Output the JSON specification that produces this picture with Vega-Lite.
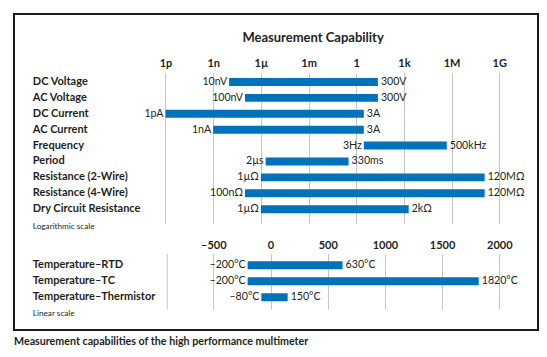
{
  "$schema": "https://vega.github.io/schema/vega-lite/v6.json",
  "width": 524,
  "height": 316,
  "autosize": {"type": "none"},
  "padding": {"left": 14, "top": 14, "right": 9, "bottom": 27},
  "background": "white",
  "title": {
    "text": "Measurement capabilities of the high performance multimeter",
    "orient": "bottom",
    "anchor": "start",
    "frame": "group",
    "offset": 7,
    "fontSize": 10.7,
    "fontWeight": "bold",
    "color": "#231f20"
  },
  "config": {
    "font": "Lato",
    "view": {"stroke": "#1a1a1a", "strokeWidth": 2},
    "text": {"font": "Lato", "fontSize": 10.6, "color": "#231f20"}
  },
  "resolve": {"scale": {"x": "independent", "y": "independent"}},
  "layer": [
    {
      "data": {
        "values": [
          {"name": "DC Voltage", "lo": 1e-8, "hi": 23, "loLabel": "10nV", "hiLabel": "300V"},
          {"name": "AC Voltage", "lo": 1e-7, "hi": 23, "loLabel": "100nV", "hiLabel": "300V"},
          {"name": "DC Current", "lo": 1e-12, "hi": 3, "loLabel": "1pA", "hiLabel": "3A"},
          {"name": "AC Current", "lo": 1e-9, "hi": 3, "loLabel": "1nA", "hiLabel": "3A"},
          {"name": "Frequency", "lo": 3, "hi": 500000, "loLabel": "3Hz", "hiLabel": "500kHz"},
          {"name": "Period", "lo": 2e-6, "hi": 0.33, "loLabel": "2µs", "hiLabel": "330ms"},
          {"name": "Resistance (2-Wire)", "lo": 1e-6, "hi": 1.2e8, "loLabel": "1µΩ", "hiLabel": "120MΩ"},
          {"name": "Resistance (4-Wire)", "lo": 1e-7, "hi": 1.2e8, "loLabel": "100nΩ", "hiLabel": "120MΩ"},
          {"name": "Dry Circuit Resistance", "lo": 1e-6, "hi": 2000, "loLabel": "1µΩ", "hiLabel": "2kΩ"}
        ]
      },
      "encoding": {
        "y": {
          "field": "name",
          "type": "nominal",
          "sort": null,
          "scale": {
            "domain": ["DC Voltage", "AC Voltage", "DC Current", "AC Current", "Frequency", "Period", "Resistance (2-Wire)", "Resistance (4-Wire)", "Dry Circuit Resistance"],
            "range": [58.7, 209.5],
            "paddingInner": 0.5,
            "paddingOuter": 0.492,
            "align": 0.339
          },
          "axis": {
            "orient": "left",
            "offset": -18.3,
            "domain": false,
            "ticks": false,
            "grid": false,
            "labelAlign": "left",
            "labelPadding": 0,
            "labelFontSize": 11,
            "labelFontWeight": "bold",
            "labelColor": "#231f20",
            "labelLimit": 0,
            "title": "Logarithmic scale",
            "titleAngle": 0,
            "titleX": 0,
            "titleY": 212.7,
            "titleAlign": "left",
            "titleBaseline": "middle",
            "titleFontSize": 8.2,
            "titleFontWeight": "normal",
            "titleColor": "#231f20"
          }
        },
        "x": {
          "field": "lo",
          "type": "quantitative",
          "scale": {"type": "log", "domain": [2.944e-22, 2.72e11], "nice": false},
          "axis": {
            "orient": "top",
            "offset": -49,
            "values": [1e-12, 1e-9, 1e-6, 1e-3, 1, 1e3, 1e6, 1e9],
            "labelExpr": "['1p','1n','1µ','1m','1','1k','1M','1G'][round(log(datum.value)/LN10/3)+4]",
            "grid": true,
            "gridColor": "#c4c4c4",
            "gridWidth": 1,
            "ticks": false,
            "domain": false,
            "labelPadding": 0,
            "labelBaseline": "middle",
            "labelFlush": false,
            "labelOverlap": false,
            "labelFontSize": 11,
            "labelFontWeight": "bold",
            "labelColor": "#231f20",
            "title": "Measurement Capability",
            "titleX": 298.6,
            "titleY": -26,
            "titleAlign": "center",
            "titleBaseline": "middle",
            "titleFontSize": 13,
            "titleFontWeight": "bold",
            "titleColor": "#231f20"
          }
        }
      },
      "layer": [
        {"mark": {"type": "bar", "color": "#0072bc"}, "encoding": {"x2": {"field": "hi"}}},
        {"mark": {"type": "text", "align": "right", "dx": -2}, "encoding": {"text": {"field": "loLabel"}}},
        {"mark": {"type": "text", "align": "left", "dx": 3}, "encoding": {"x": {"field": "hi", "type": "quantitative"}, "text": {"field": "hiLabel"}}}
      ]
    },
    {
      "data": {
        "values": [
          {"name": "Temperature–RTD", "lo": -200, "hi": 630, "loLabel": "–200°C", "hiLabel": "630°C"},
          {"name": "Temperature–TC", "lo": -200, "hi": 1820, "loLabel": "–200°C", "hiLabel": "1820°C"},
          {"name": "Temperature–Thermistor", "lo": -80, "hi": 150, "loLabel": "–80°C", "hiLabel": "150°C"}
        ]
      },
      "encoding": {
        "y": {
          "field": "name",
          "type": "nominal",
          "sort": null,
          "scale": {
            "domain": ["Temperature–RTD", "Temperature–TC", "Temperature–Thermistor"],
            "range": [239.5, 295],
            "paddingInner": 0.5,
            "paddingOuter": 0.484
          },
          "axis": {
            "orient": "left",
            "offset": -152.7,
            "domain": true,
            "domainColor": "#c4c4c4",
            "domainWidth": 1,
            "ticks": false,
            "grid": false,
            "labelAlign": "left",
            "labelPadding": 134.4,
            "labelFontSize": 11,
            "labelFontWeight": "bold",
            "labelColor": "#231f20",
            "labelLimit": 0,
            "title": "Linear scale",
            "titleAngle": 0,
            "titleX": -134.4,
            "titleY": 299.3,
            "titleAlign": "left",
            "titleBaseline": "middle",
            "titleFontSize": 8.2,
            "titleFontWeight": "normal",
            "titleColor": "#231f20"
          }
        },
        "x": {
          "field": "lo",
          "type": "quantitative",
          "scale": {"domain": [-2242, 2338], "nice": false, "zero": false},
          "axis": {
            "orient": "top",
            "offset": -231,
            "values": [-500, 0, 500, 1000, 1500, 2000],
            "labelExpr": "datum.value < 0 ? '–' + abs(datum.value) : '' + datum.value",
            "grid": true,
            "gridColor": "#c4c4c4",
            "gridWidth": 1,
            "ticks": false,
            "domain": false,
            "labelPadding": 0,
            "labelBaseline": "middle",
            "labelFlush": false,
            "labelOverlap": false,
            "labelFontSize": 11,
            "labelFontWeight": "bold",
            "labelColor": "#231f20",
            "title": null
          }
        }
      },
      "layer": [
        {"mark": {"type": "bar", "color": "#0072bc"}, "encoding": {"x2": {"field": "hi"}}},
        {"mark": {"type": "text", "align": "right", "dx": -2}, "encoding": {"text": {"field": "loLabel"}}},
        {"mark": {"type": "text", "align": "left", "dx": 3}, "encoding": {"x": {"field": "hi", "type": "quantitative"}, "text": {"field": "hiLabel"}}}
      ]
    }
  ]
}
